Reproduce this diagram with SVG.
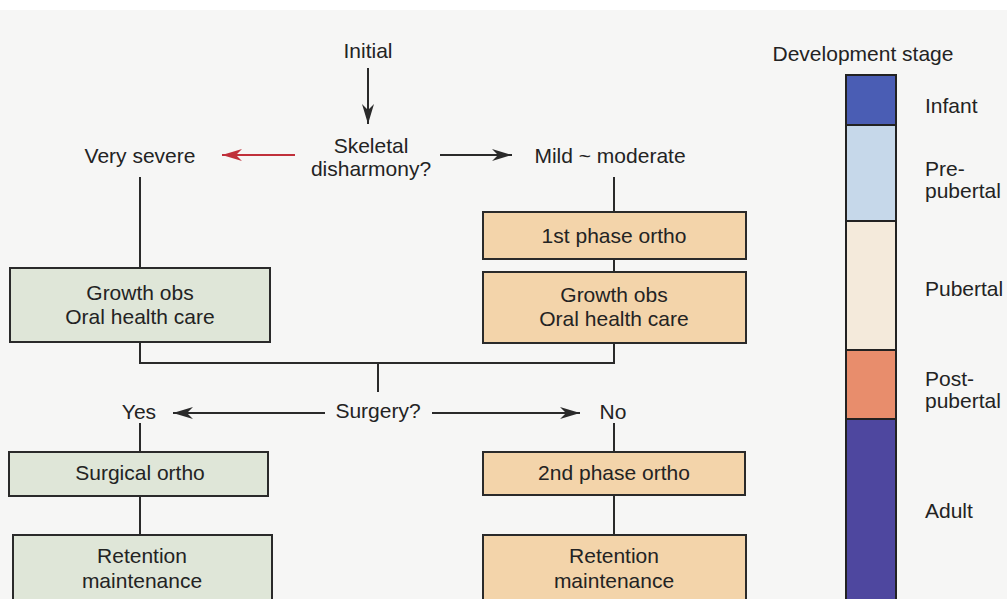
<svg xmlns="http://www.w3.org/2000/svg" width="1007" height="599" viewBox="0 0 1007 599">
<style>
text{font-family:"Liberation Sans",Arial,sans-serif;font-size:21px;fill:#232323;}
.c{text-anchor:middle;}
.ln{stroke:#2a2a2a;stroke-width:2;fill:none;}
.g{fill:#dfe6d8;stroke:#2a2a2a;stroke-width:2;}
.o{fill:#f3d4aa;stroke:#2a2a2a;stroke-width:2;}
.bar{stroke:#222;stroke-width:2;}
</style>
<defs>
<marker id="ah" markerUnits="userSpaceOnUse" markerWidth="24" markerHeight="14" refX="20" refY="7" orient="auto">
<path d="M0,1 L20,7 L0,13 L6,7 Z" fill="#2a2a2a"/>
</marker>
<marker id="ahr" markerUnits="userSpaceOnUse" markerWidth="24" markerHeight="14" refX="20" refY="7" orient="auto">
<path d="M0,1 L20,7 L0,13 L6,7 Z" fill="#c0303a"/>
</marker>
</defs>
<rect x="0" y="0" width="1007" height="599" fill="#f6f6f5"/>
<rect x="0" y="0" width="1007" height="10" fill="#ffffff"/>
<g id="connectors">
<line class="ln" x1="368" y1="68" x2="368" y2="124" marker-end="url(#ah)"/>
<line x1="295" y1="155" x2="222" y2="155" stroke="#c0303a" stroke-width="2" marker-end="url(#ahr)"/>
<line class="ln" x1="440" y1="155" x2="512" y2="155" marker-end="url(#ah)"/>
<line class="ln" x1="140" y1="177" x2="140" y2="268"/>
<line class="ln" x1="614" y1="177" x2="614" y2="212"/>
<line class="ln" x1="614" y1="259" x2="614" y2="272"/>
<polyline class="ln" points="140,342 140,363 614,363 614,343"/>
<line class="ln" x1="378" y1="363" x2="378" y2="392"/>
<line class="ln" x1="325" y1="413" x2="173" y2="413" marker-end="url(#ah)"/>
<line class="ln" x1="432" y1="413" x2="580" y2="413" marker-end="url(#ah)"/>
<line class="ln" x1="140" y1="423" x2="140" y2="452"/>
<line class="ln" x1="140" y1="496" x2="140" y2="535"/>
<line class="ln" x1="614" y1="423" x2="614" y2="452"/>
<line class="ln" x1="614" y1="495" x2="614" y2="535"/>
</g>
<g id="initial"><text class="c" x="368" y="58">Initial</text></g>
<g id="skeletal"><text class="c" x="371" y="153">Skeletal</text><text class="c" x="371" y="176">disharmony?</text></g>
<g id="very-severe"><text class="c" x="140" y="163">Very severe</text></g>
<g id="mild-moderate"><text class="c" x="610" y="163">Mild ~ moderate</text></g>
<g id="growth-left"><rect class="g" x="10" y="268" width="260" height="74"/><text class="c" x="140" y="300">Growth obs</text><text class="c" x="140" y="324">Oral health care</text></g>
<g id="first-phase"><rect class="o" x="483" y="212" width="263" height="47"/><text class="c" x="614" y="243">1st phase ortho</text></g>
<g id="growth-right"><rect class="o" x="483" y="272" width="263" height="71"/><text class="c" x="614" y="302">Growth obs</text><text class="c" x="614" y="326">Oral health care</text></g>
<g id="surgery"><text class="c" x="378" y="418">Surgery?</text></g>
<g id="yes"><text class="c" x="139" y="419">Yes</text></g>
<g id="no"><text class="c" x="613" y="419">No</text></g>
<g id="surgical-ortho"><rect class="g" x="9" y="452" width="259" height="44"/><text class="c" x="140" y="480">Surgical ortho</text></g>
<g id="retention-left"><rect class="g" x="13" y="535" width="259" height="70"/><text class="c" x="142" y="563">Retention</text><text class="c" x="142" y="588">maintenance</text></g>
<g id="second-phase"><rect class="o" x="483" y="452" width="262" height="43"/><text class="c" x="614" y="480">2nd phase ortho</text></g>
<g id="retention-right"><rect class="o" x="483" y="535" width="263" height="70"/><text class="c" x="614" y="563">Retention</text><text class="c" x="614" y="588">maintenance</text></g>
<g id="development-stage">
<text class="c" x="863" y="61">Development stage</text>
<rect class="bar" x="846" y="75" width="50" height="50" fill="#4a5db4"/>
<rect class="bar" x="846" y="125" width="50" height="96" fill="#c6d8ea"/>
<rect class="bar" x="846" y="221" width="50" height="129" fill="#f4eadb"/>
<rect class="bar" x="846" y="350" width="50" height="69" fill="#e88d6c"/>
<rect class="bar" x="846" y="419" width="50" height="190" fill="#4e479f"/>
<text x="925" y="113">Infant</text>
<text x="925" y="176">Pre-</text>
<text x="925" y="198">pubertal</text>
<text x="925" y="296">Pubertal</text>
<text x="925" y="386">Post-</text>
<text x="925" y="408">pubertal</text>
<text x="925" y="518">Adult</text>
</g>
</svg>
